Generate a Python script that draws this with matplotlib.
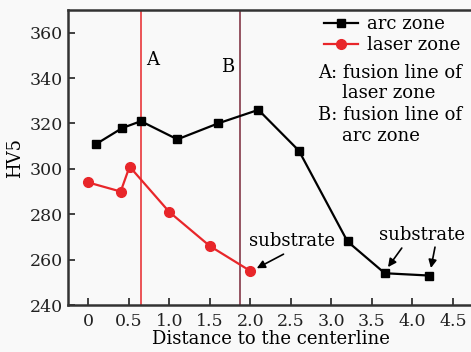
import matplotlib
matplotlib.use("Agg")
import matplotlib.pyplot as plt
from matplotlib.lines import Line2D

plt.rcParams['font.family'] = ['DejaVu Serif']

arc_x = [0.1, 0.42, 0.65, 1.1, 1.6, 2.1, 2.6, 3.2, 3.66, 4.2]
arc_y = [311, 318, 321, 313, 320, 326, 308, 268, 254, 253]
laser_x = [0.0, 0.4, 0.51, 1.0, 1.5, 2.0]
laser_y = [294, 290, 301, 281, 266, 255]
line_A = 0.645
line_B = 1.87
xticks = [0, 0.5, 1.0, 1.5, 2.0, 2.5, 3.0, 3.5, 4.0, 4.5]
xtick_labels = ['0', '0.5', '1.0', '1.5', '2.0', '2.5', '3.0', '3.5', '4.0', '4.5']
yticks = [240, 260, 280, 300, 320, 340, 360]

bg = '#f9f9f9'
fs = 13
fig = plt.figure(figsize=(4.71, 3.52), dpi=100, facecolor=bg)
ax = fig.add_axes([0.1444, 0.1335, 0.8600, 0.8381], facecolor=bg)

ax.axvline(line_A, color='#e8262a', lw=1.1, zorder=1)
ax.axvline(line_B, color='#7a2838', lw=1.1, zorder=1)

ax.plot(arc_x, arc_y, color='black', lw=1.6, marker='s', ms=6, zorder=3)
ax.plot(laser_x, laser_y, color='#e8262a', lw=1.6, marker='o', ms=7, zorder=3)

ax.set_xlim(-0.25, 4.75)
ax.set_ylim(240, 370)
ax.set_xticks(xticks)
ax.set_xticklabels(xtick_labels)
ax.set_yticks(yticks)
ax.tick_params(direction='in', length=5, width=1.2, labelsize=12.5, colors='#222222')
ax.tick_params(axis='x', pad=6)
for s in ax.spines.values():
    s.set_color('#333333')
    s.set_linewidth(1.8)
ax.spines['right'].set_visible(False)

ax.set_xlabel('Distance to the centerline', fontsize=fs, labelpad=0)
ax.set_ylabel('HV5', fontsize=fs, labelpad=4)

ax.text(0.72, 348, 'A', fontsize=fs, ha='left', va='center')
ax.text(1.64, 345, 'B', fontsize=fs, ha='left', va='center')

handles = [Line2D([], [], color='black', lw=1.6, marker='s', ms=6),
           Line2D([], [], color='#e8262a', lw=1.6, marker='o', ms=7)]
ax.legend(handles, ['arc zone', 'laser zone'], loc='upper right',
          bbox_to_anchor=(1.0, 1.025), frameon=False, fontsize=fs,
          handlelength=1.9, handletextpad=0.5, labelspacing=0.15,
          borderaxespad=0.3)

ax.text(2.84, 342.3, 'A: fusion line of', fontsize=fs, ha='left', va='center')
ax.text(3.13, 333.5, 'laser zone', fontsize=fs, ha='left', va='center')
ax.text(2.84, 323.8, 'B: fusion line of', fontsize=fs, ha='left', va='center')
ax.text(3.13, 314.5, 'arc zone', fontsize=fs, ha='left', va='center')

arrowprops = dict(arrowstyle='-|>', color='black', lw=1.2, mutation_scale=12,
                  shrinkA=0, shrinkB=0)
ax.text(2.52, 268.2, 'substrate', fontsize=fs, ha='center', va='center')
ax.annotate('', xy=(2.08, 256.2), xytext=(2.41, 262.4), arrowprops=arrowprops)
ax.annotate('', xy=(3.70, 256.7), xytext=(3.87, 265.1), arrowprops=arrowprops)
ax.annotate('', xy=(4.23, 256.3), xytext=(4.28, 265.5), arrowprops=arrowprops)
ax.text(4.12, 270.8, 'substrate', fontsize=fs, ha='center', va='center')

fig.savefig('out.png', dpi=100, facecolor=bg)
